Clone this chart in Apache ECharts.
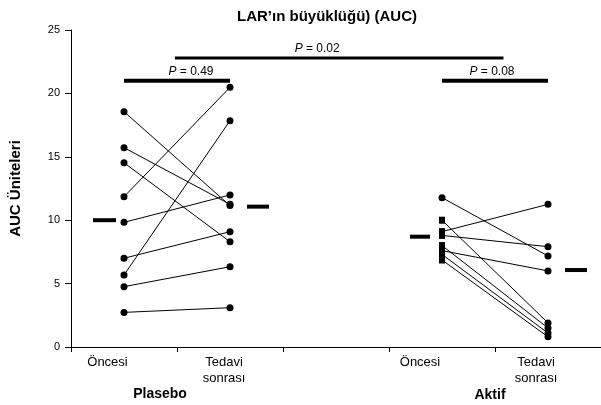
<!DOCTYPE html>
<html>
<head>
<meta charset="utf-8">
<script src="https://cdn.jsdelivr.net/npm/echarts@6/dist/echarts.min.js"></script>
<style>
html,body{margin:0;padding:0;background:#fff;}
#chart{width:601px;height:405px;}
</style>
</head>
<body>
<div id="chart"></div>
<script>
// ---- data ----
const titleText = 'LAR’ın büyüklüğü) (AUC)';
const yAxisName = 'AUC Üniteleri';
const categories = ['Öncesi', 'Tedavi\nsonrası', '', 'Öncesi', 'Tedavi\nsonrası'];
const groupNames = ['Plasebo', 'Aktif'];
const yMin = 0, yMax = 25, yStep = 5;

// paired values (before -> after)
const plaseboPre  = [18.56, 15.72, 14.53, 11.85, 9.83, 7.00, 5.68, 4.76, 2.73];
const plaseboPost = [11.15, 11.25,  8.30, 20.48, 11.99, 9.09, 17.85, 6.33, 3.10];
const aktifPre    = [11.78, 9.10, 8.80, 10.00, 7.60, 8.00, 7.30, 6.86];
const aktifPost   = [ 7.18, 11.25, 7.91, 1.90, 6.00, 1.50, 1.10, 0.80];

const plaseboMedians = [10.0, 11.07];
const aktifMedians   = [8.7, 6.07];

// category slots (x in axis units)
const slotPlaseboPre = 0.5, slotPlaseboPost = 1.5, slotAktifPre = 3.5, slotAktifPost = 4.5;

// P-value annotations
const pValues = ['0.49', '0.08', '0.02'];
const pBarFrom = [0.5, 3.5, 0.98];
const pBarTo   = [1.5, 4.5, 4.08];
const pBarY    = [21.0, 21.0, 22.8];

// ---- chart ----
const FONT = "'Liberation Sans', Arial, sans-serif";
const chart = echarts.init(document.getElementById('chart'), null, {renderer: 'canvas'});

const series = [];
function pairSeries(pre, post, x0, x1, preSymbol) {
  pre.forEach((v, i) => {
    series.push({
      type: 'line',
      xAxisIndex: 0,
      data: [
        {value: [x0, v], symbol: preSymbol(i), symbolSize: preSymbol(i) === 'rect' ? [6, 7] : 7},
        {value: [x1, post[i]], symbol: 'circle', symbolSize: 7}
      ],
      lineStyle: {color: '#000', width: 1},
      itemStyle: {color: '#000', opacity: 1},
      silent: true,
      z: 3
    });
  });
}
pairSeries(plaseboPre, plaseboPost, slotPlaseboPre, slotPlaseboPost, () => 'circle');
pairSeries(aktifPre, aktifPost, slotAktifPre, slotAktifPost, (i) => i === 0 ? 'circle' : 'rect');

// medians
const medianOffsets = [-19.5, 28, -22, 28];
const medianWidths = [23, 22, 20, 22];
const medianPoints = [
  [slotPlaseboPre, plaseboMedians[0]],
  [slotPlaseboPost, plaseboMedians[1]],
  [slotAktifPre, aktifMedians[0]],
  [slotAktifPost, aktifMedians[1]]
];
medianPoints.forEach((p, i) => {
  series.push({
    type: 'scatter',
    xAxisIndex: 0,
    data: [p],
    symbol: 'rect',
    symbolSize: [medianWidths[i], 4],
    symbolOffset: [medianOffsets[i], 0],
    itemStyle: {color: '#000', opacity: 1},
    silent: true,
    z: 4
  });
});

// P bars
const pBarWidths = [4, 4, 3];
const pTextOffsets = [14, -3, -22];
pValues.forEach((p, i) => {
  series.push({
    type: 'line',
    xAxisIndex: 0,
    data: [[pBarFrom[i], pBarY[i]], [pBarTo[i], pBarY[i]]],
    showSymbol: false,
    symbol: 'none',
    lineStyle: {color: '#000', width: pBarWidths[i], cap: 'butt'},
    silent: true,
    z: 2
  });
  series.push({
    type: 'scatter',
    xAxisIndex: 0,
    data: [[(pBarFrom[i] + pBarTo[i]) / 2, pBarY[i]]],
    symbol: 'circle',
    symbolSize: 1,
    itemStyle: {color: 'rgba(0,0,0,0)', opacity: 1},
    label: {
      show: true,
      position: 'top',
      distance: 3,
      offset: [pTextOffsets[i], 0],
      opacity: 1,
      formatter: () => '{i|P}{n| = ' + p + '}',
      rich: {
        i: {fontFamily: FONT, fontSize: 12, fontStyle: 'italic', color: '#000'},
        n: {fontFamily: FONT, fontSize: 12, color: '#000'}
      }
    },
    silent: true,
    z: 5
  });
});

const labelPads = [33, 12, 0, 44, 24];
const richCat = {};
labelPads.forEach((pd, i) => {
  richCat['c' + i] = {fontFamily: FONT, fontSize: 13, color: '#000', lineHeight: 16, padding: [0, pd, 0, 0]};
});

const option = {
  animation: false,
  backgroundColor: '#fff',
  grid: {left: 66, top: 30, width: 539, height: 317, containLabel: false},
  xAxis: [
    {
      type: 'value', min: 0, max: categories.length, interval: 1,
      axisLine: {show: true, lineStyle: {color: '#000', width: 1}},
      axisTick: {show: true, inside: false, length: 5, lineStyle: {color: '#000'}},
      axisLabel: {show: false},
      splitLine: {show: false}
    },
    {
      type: 'category', data: categories, position: 'bottom', boundaryGap: true,
      axisLine: {show: false}, axisTick: {show: false}, splitLine: {show: false},
      axisLabel: {
        show: true, interval: 0, margin: 7,
        formatter: (v, i) => v ? '{c' + i + '|' + v + '}' : '',
        rich: richCat
      }
    }
  ],
  yAxis: {
    type: 'value', min: yMin, max: yMax, interval: yStep,
    name: yAxisName, nameLocation: 'middle', nameRotate: 90, nameGap: 48,
    nameTextStyle: {fontFamily: FONT, fontSize: 15, fontWeight: 'bold', color: '#000'},
    axisLine: {show: true, lineStyle: {color: '#000', width: 1}},
    axisTick: {show: true, inside: false, length: 6, lineStyle: {color: '#000'}},
    axisLabel: {fontFamily: FONT, fontSize: 11, color: '#000', margin: 11},
    splitLine: {show: false}
  },
  graphic: [
    {type: 'text', x: 327, y: 17, style: {text: titleText, font: 'bold 15px ' + FONT, fill: '#000', textAlign: 'center', textVerticalAlign: 'middle'}},
    {type: 'text', x: 160, y: 394, style: {text: groupNames[0], font: 'bold 14px ' + FONT, fill: '#000', textAlign: 'center', textVerticalAlign: 'middle'}},
    {type: 'text', x: 490, y: 395, style: {text: groupNames[1], font: 'bold 14px ' + FONT, fill: '#000', textAlign: 'center', textVerticalAlign: 'middle'}}
  ],
  series: series
};
chart.setOption(option);
</script>
</body>
</html>
